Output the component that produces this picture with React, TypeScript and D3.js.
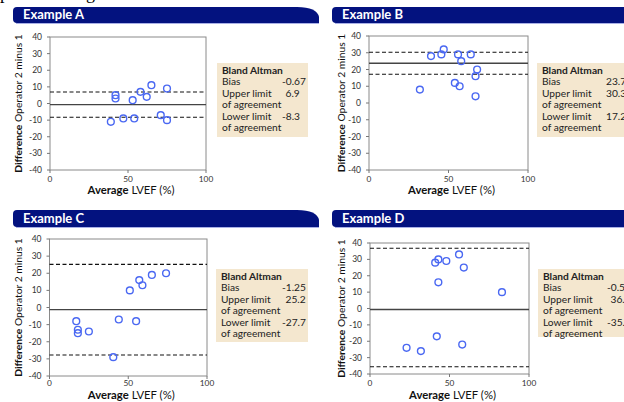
import React from "react";
import * as d3 from "d3";

const panelNames = ["Example A", "Example B", "Example C", "Example D"];

const avgA = [39, 42, 42, 47, 53, 54, 58, 62, 65, 71, 75, 75];
const diffA = [-11, 5, 3, -9, 2, -9, 7, 4, 11, -7, -10, 9];
const avgB = [32, 39, 45.5, 47, 54, 56, 57, 58, 64, 67, 67, 68];
const diffB = [8, 28, 29, 32, 12, 29, 10, 25, 29, 16, 4, 20];
const avgC = [17, 18, 18, 25, 40.5, 44, 51, 55, 57, 59, 65, 74];
const diffC = [-8, -13, -15, -14, -29, -7, 10, -8, 16, 13, 19, 20];
const avgD = [23, 32, 41, 43, 43, 42, 48, 56, 59, 58, 83];
const diffD = [-24, -26, 28, 30, 16, -17, 29, 33, 25, -22, 10];

const biasValues = [-0.67, 23.75, -1.25, -0.58];
const upperValues = [6.9, 30.3, 25.2, 36.8];
const lowerValues = [-8.3, 17.2, -27.7, -35.6];
const biasLabels = ["-0.67", "23.75", "-1.25", "-0.58"];
const upperLabels = ["6.9", "30.3", "25.2", "36.8"];
const lowerLabels = ["-8.3", "17.2", "-27.7", "-35.6"];

const xTicks = [0, 50, 100];
const yTicks = [40, 30, 20, 10, 0, -10, -20, -30, -40];

const avgs = [avgA, avgB, avgC, avgD];
const diffs = [diffA, diffB, diffC, diffD];

const layouts = [
  { hx0: 13, hx1: 319, hy0: 7, hy1: 23, px0: 50, px1: 206, py0: 37, py1: 170, lx: 217, ly: 63, lw: 91, lh: 74, vx: 282, posShift: 3.5, xt: 194, yt: 18, tk: 12 },
  { hx0: 332, hx1: 640, hy0: 7, hy1: 23, px0: 369, px1: 528, py0: 36, py1: 170, lx: 537, ly: 63, lw: 100, lh: 74, vx: 606, posShift: 0, xt: 194, yt: 341, tk: 12 },
  { hx0: 13, hx1: 319, hy0: 210, hy1: 227, px0: 49.5, px1: 207, py0: 239, py1: 376, lx: 216, ly: 269, lw: 92, lh: 73, vx: 282, posShift: 3.5, xt: 398.5, yt: 18, tk: 10.3 },
  { hx0: 332, hx1: 640, hy0: 210, hy1: 227, px0: 370, px1: 529, py0: 243, py1: 374, lx: 538, ly: 269, lw: 100, lh: 68, vx: 607, posShift: 3.5, xt: 398.5, yt: 341, tk: 12 },
];

const FONT = "Lato, 'Open Sans', sans-serif";
const NAVY = "#03127f";

function headerPath(x0: number, x1: number, y0: number, y1: number, curved: boolean) {
  const r = 4;
  if (curved) {
    return `M${x0 + r},${y0} H${x1 - 22} Q${x1 - 2},${y0} ${x1},${y0 + 10} V${y1} H${x0 + r} Q${x0},${y1} ${x0},${y1 - r} V${y0 + r} Q${x0},${y0} ${x0 + r},${y0} Z`;
  }
  return `M${x0 + r},${y0} H${x1} V${y1} H${x0 + r} Q${x0},${y1} ${x0},${y1 - r} V${y0 + r} Q${x0},${y0} ${x0 + r},${y0} Z`;
}

function Panel({ i }: { i: number }) {
  const L = layouts[i];
  const x = d3.scaleLinear().domain([0, 100]).range([L.px0, L.px1]);
  const y = d3.scaleLinear().domain([-40, 40]).range([L.py1, L.py0]);
  const xs = avgs[i];
  const ys = diffs[i];
  const curved = i % 2 === 0;
  const labelX = (s: string) => (s.startsWith("-") ? L.vx : L.vx + L.posShift);
  return (
    <g>
      <path d={headerPath(L.hx0, L.hx1, L.hy0, L.hy1, curved)} fill={NAVY} />
      <line x1={L.hx0 + 3} x2={L.hx1} y1={L.hy1 + 0.5} y2={L.hy1 + 0.5} stroke="#a9b0e6" strokeWidth={1} />
      <text x={L.hx0 + 10} y={L.hy1 - 4.5} fill="#fff" fontFamily={FONT} fontWeight="bold" fontSize={13}>
        {panelNames[i]}
      </text>

      {/* plot frame */}
      <rect x={L.px0} y={L.py0} width={L.px1 - L.px0} height={L.py1 - L.py0} fill="none" stroke="#8a8a8a" strokeWidth={1} />
      {yTicks.map((t) => (
        <g key={"y" + t}>
          <line x1={L.px0 - 3} x2={L.px0} y1={y(t)} y2={y(t)} stroke="#777" />
          <text x={L.px0 - 8} y={y(t) + 3} textAnchor="end" fontFamily={FONT} fontSize={8.5} fill="#333">
            {t}
          </text>
        </g>
      ))}
      {xTicks.map((t) => (
        <g key={"x" + t}>
          <line x1={x(t)} x2={x(t)} y1={L.py1} y2={L.py1 + 3} stroke="#777" />
          <text x={x(t)} y={L.py1 + L.tk} textAnchor="middle" fontFamily={FONT} fontSize={8.3} fill="#333">
            {t}
          </text>
        </g>
      ))}

      {/* bias and limits */}
      <line x1={L.px0} x2={L.px1} y1={y(biasValues[i])} y2={y(biasValues[i])} stroke="#444" strokeWidth={1.4} />
      <line x1={L.px0} x2={L.px1} y1={y(upperValues[i])} y2={y(upperValues[i])} stroke="#111" strokeWidth={1.1} strokeDasharray="4,2.5" />
      <line x1={L.px0} x2={L.px1} y1={y(lowerValues[i])} y2={y(lowerValues[i])} stroke="#111" strokeWidth={1.1} strokeDasharray="4,2.5" />

      {xs.map((v, k) => (
        <circle key={k} cx={x(v)} cy={y(ys[k])} r={3.4} fill="none" stroke="#4a68f2" strokeWidth={1.4} />
      ))}

      {/* axis titles */}
      <text x={(L.px0 + L.px1) / 2 + 3} y={L.xt} textAnchor="middle" fontFamily={FONT} fontSize={11.3} fill="#111">
        <tspan fontWeight="bold">Average</tspan> LVEF (%)
      </text>
      <text
        transform={`translate(${L.yt + 4},${(L.py0 + L.py1) / 2}) rotate(-90)`}
        textAnchor="middle"
        fontFamily={FONT}
        fontSize={10.3}
        fill="#111"
      >
        <tspan fontWeight="bold">Difference</tspan> Operator 2 minus 1
      </text>

      {/* legend */}
      <rect x={L.lx} y={L.ly} width={L.lw} height={L.lh} fill="#f4e7cf" />
      <g fontFamily={FONT} fontSize={10.2} fill="#222">
        <text x={L.lx + 5} y={L.ly + 11} fontWeight="bold">Bland Altman</text>
        <text x={L.lx + 5} y={L.ly + 22}>Bias</text>
        <text x={L.lx + 5} y={L.ly + 34}>Upper limit</text>
        <text x={L.lx + 5} y={L.ly + 45}>of agreement</text>
        <text x={L.lx + 5} y={L.ly + 57}>Lower limit</text>
        <text x={L.lx + 5} y={L.ly + 68}>of agreement</text>
        <text x={labelX(biasLabels[i])} y={L.ly + 22}>{biasLabels[i]}</text>
        <text x={labelX(upperLabels[i])} y={L.ly + 34}>{upperLabels[i]}</text>
        <text x={labelX(lowerLabels[i])} y={L.ly + 57}>{lowerLabels[i]}</text>
      </g>
    </g>
  );
}

export default function App() {
  return (
    <svg
      width={624}
      height={402}
      viewBox="0 0 624 402"
      style={{ position: "absolute", left: 0, top: 0, background: "#fff" }}
    >
      <rect width={624} height={402} fill="#fff" />
      <text x={0} y={-1} fontFamily="'Liberation Serif', serif" fontSize={18} fill="#000">p</text>
      <text x={86} y={-1} fontFamily="'Liberation Serif', serif" fontSize={18} fill="#000">g</text>
      {panelNames.map((_, i) => (
        <Panel key={i} i={i} />
      ))}
    </svg>
  );
}
